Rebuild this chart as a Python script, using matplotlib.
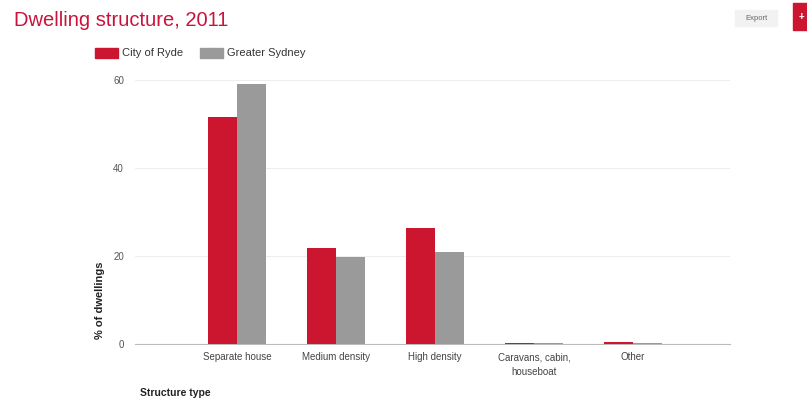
import matplotlib.pyplot as plt
from matplotlib.patches import Rectangle
import numpy as np

plt.rcParams["font.family"] = ["Liberation Sans", "DejaVu Sans"]

# Share of dwellings by structure type (%)
CATEGORIES = ["Separate house", "Medium density", "High density",
              "Caravans, cabin,\nhouseboat", "Other"]
RYDE = [51.6, 21.8, 26.4, 0.3, 0.4]
SYDNEY = [59.1, 19.8, 20.9, 0.2, 0.3]
SERIES_NAMES = ["City of Ryde", "Greater Sydney"]
Y_TICKS = [0, 20, 40, 60]

RED = "#cc1630"
GREY = "#9a9a9a"
TITLE_RED = "#c8143c"

fig = plt.figure(figsize=(8.07, 4.03), dpi=100)
ax = fig.add_axes([135 / 807, 1 - 344 / 403, 595 / 807, 264 / 403])

x = np.arange(len(CATEGORIES))
w = 0.29
ax.bar(x - w / 2, RYDE, width=w, color=RED, zorder=3)
ax.bar(x + w / 2, SYDNEY, width=w, color=GREY, zorder=3)

ax.set_xlim(-1.03, 4.98)
ax.set_ylim(0, 60)
ax.set_yticks(Y_TICKS)
ax.set_yticklabels([str(t) for t in Y_TICKS], fontsize=7, color="#555555")
ax.set_xticks(x)
ax.set_xticklabels(CATEGORIES, fontsize=7, color="#444444", linespacing=1.6)
ax.tick_params(length=0, pad=6)
ax.tick_params(axis="y", pad=8)
ax.grid(axis="y", color="#eeeeee", linewidth=0.8, zorder=0)
for side in ["top", "right", "left"]:
    ax.spines[side].set_visible(False)
ax.spines["bottom"].set_color("#bbbbbb")
ax.spines["bottom"].set_linewidth(0.8)

fig.text(100 / 807, 1 - 300 / 403, "% of dwellings", rotation=90, ha="center",
         va="center", fontsize=8, fontweight="bold", color="#222222")
fig.text(140 / 807, 1 - 393 / 403, "Structure type", ha="left", va="center",
         fontsize=7.5, fontweight="bold", color="#222222")

fig.text(14 / 807, 1 - 20 / 403, "Dwelling structure, 2011", ha="left",
         va="center", fontsize=14.5, color=TITLE_RED)

# legend drawn by hand in figure pixels
for px, color, name in [(95, RED, SERIES_NAMES[0]), (200, GREY, SERIES_NAMES[1])]:
    fig.patches.append(Rectangle((px / 807, 1 - 58 / 403), 23 / 807, 10 / 403,
                                 transform=fig.transFigure, color=color))
    fig.text((px + 27) / 807, 1 - 53 / 403, name, ha="left", va="center",
             fontsize=8, color="#333333")

# export button
fig.patches.append(Rectangle((735 / 807, 1 - 26 / 403), 42 / 807, 16 / 403,
                             transform=fig.transFigure, color="#f2f2f2"))
fig.text(756 / 807, 1 - 18 / 403, "Export", ha="center", va="center",
         fontsize=5.5, color="#666666")
fig.patches.append(Rectangle((793 / 807, 1 - 30 / 403), 14 / 807, 27 / 403,
                             transform=fig.transFigure, color=RED))
fig.text(801 / 807, 1 - 17 / 403, "+", ha="center", va="center",
         fontsize=7, color="white", fontweight="bold")

fig.savefig("out.png", dpi=100)
